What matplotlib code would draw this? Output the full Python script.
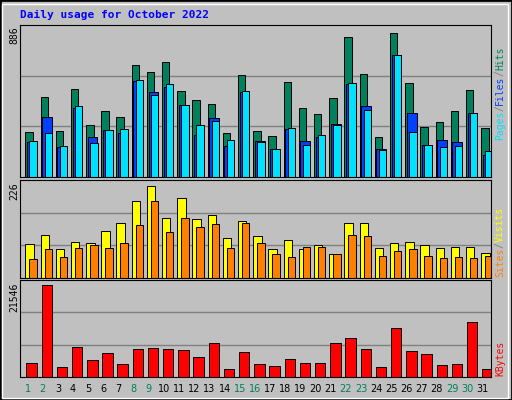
import matplotlib.pyplot as plt
import numpy as np
from matplotlib.patches import Rectangle

days = list(range(1, 32))
weekend = [1, 2, 8, 9, 15, 16, 22, 23, 29, 30]

# values (zoomed pixel tops, converted to counts)
hits_px = [331, 226, 328, 202, 310, 268, 286, 127, 148, 118, 208, 235, 247, 334, 157, 328,
           343, 178, 259, 277, 229, 40, 154, 349, 28, 181, 316, 301, 268, 205, 319]
files_px = [364, 286, 379, 259, 349, 325, 334, 175, 211, 193, 250, 340, 289, 376, 210, 361,
            385, 322, 361, 349, 307, 184, 253, 385, 97, 274, 373, 358, 364, 274, 403]
pages_px = [361, 334, 376, 253, 367, 325, 322, 172, 220, 184, 250, 310, 298, 358, 208, 364,
            385, 319, 373, 340, 310, 181, 265, 388, 97, 331, 373, 379, 376, 274, 391]
visits_px = [202, 175, 217, 196, 199, 163, 139, 73, 28, 124, 64, 127, 115, 184, 133, 178,
             217, 190, 217, 205, 232, 139, 139, 214, 199, 196, 205, 214, 211, 211, 229]
sites_px = [247, 217, 241, 214, 205, 214, 199, 145, 73, 166, 124, 151, 142, 214, 139, 199,
            232, 241, 211, 211, 232, 175, 178, 238, 223, 217, 238, 244, 241, 244, 238]
kb_px = [559, 328, 571, 511, 550, 529, 562, 517, 514, 517, 520, 541, 499, 577, 526, 562,
         568, 547, 559, 559, 499, 487, 517, 571, 457, 523, 532, 565, 562, 439, 577]

hits = [(470 - y) * 886 / 456 for y in hits_px]
files = [(470 - y) * 886 / 456 for y in files_px]
pages = [(470 - y) * 886 / 456 for y in pages_px]
visits = [(305 - y) * 226 / 285 for y in visits_px]
sites = [(305 - y) * 226 / 285 for y in sites_px]
kbytes = [(602 - y) * 21546 / 281 for y in kb_px]

BG = '#C0C0C0'
W, H = 512, 400
fig = plt.figure(figsize=(5.12, 4.0), dpi=100, facecolor=BG)
fig.patches.append(Rectangle((0, 0), 1, 1, transform=fig.transFigure, fill=False,
                             edgecolor='black', lw=2))
fig.patches.append(Rectangle((2 / W, 2 / H), 1 - 6 / W, 1 - 6 / H, transform=fig.transFigure,
                             fill=False, edgecolor='white', lw=1))

mono = 'DejaVu Sans Mono'
fig.text(20 / W, 1 - 15 / H, 'Daily usage for October 2022', color='#0000FF',
         family=mono, fontweight='bold', fontsize=8, va='center')


def make_ax(top, bottom, ymax):
    ax = fig.add_axes([20 / W, 1 - bottom / H, 471 / W, (bottom - top) / H], facecolor=BG)
    ax.set_xlim(0.5, 31.5)
    ax.set_ylim(0, ymax)
    ax.set_xticks([])
    ax.set_yticks([])
    for y in (ymax / 3, ymax * 2 / 3):
        ax.axhline(y, color='#808080', lw=1, zorder=0)
    for s in ax.spines.values():
        s.set_color('black')
    return ax


def side_label(top_px, pieces):
    # pieces listed from bottom to top, drawn rotated
    x = 500 / W
    cw = 5.84
    y = top_px
    for txt, col in pieces:
        fig.text(x, 1 - y / H, txt, color=col, family=mono, fontsize=7, rotation=90,
                 ha='center', va='bottom')
        y -= cw * len(txt)


step = 15.16
d = np.array(days)
ax1 = make_ax(25, 177, 886 / 0.98)
ax1.bar(d - 0.5 + 9 / step, hits, width=7.4 / step, color='#00805C', edgecolor='black', lw=0.7)
ax1.bar(d - 0.5 + 11.8 / step, files, width=9.7 / step, color='#0040FF', edgecolor='black', lw=0.7)
ax1.bar(d - 0.5 + 13 / step, pages, width=7.4 / step, color='#00E0FF', edgecolor='black', lw=0.7)
fig.text(14 / W, 1 - 26 / H, '886', rotation=90, family=mono, fontsize=7, ha='center', va='top')
side_label(140, [('Pages', '#00E0FF'), ('/', '#808080'), ('Files', '#0040FF'),
                 ('/', '#808080'), ('Hits', '#00805C')])

ax2 = make_ax(180, 278, 226 / 0.97)
ax2.bar(d - 0.5 + 9.5 / step, visits, width=8.4 / step, color='#FFFF00', edgecolor='black', lw=0.7)
ax2.bar(d - 0.5 + 13 / step, sites, width=7.4 / step, color='#FF8000', edgecolor='black', lw=0.7)
fig.text(14 / W, 1 - 182 / H, '226', rotation=90, family=mono, fontsize=7, ha='center', va='top')
side_label(277, [('Sites', '#FF8000'), ('/', '#808080'), ('Visits', '#FFFF00')])

ax3 = make_ax(280, 377, 21546 / 0.97)
ax3.bar(d - 0.5 + 11.5 / step, kbytes, width=10.4 / step, color='#FF0000', edgecolor='black', lw=0.7)
fig.text(14 / W, 1 - 283 / H, '21546', rotation=90, family=mono, fontsize=7, ha='center', va='top')
side_label(376, [('KBytes', '#FF0000')])

for day in days:
    xf = (20 + (day - 0.5) * step) / W
    fig.text(xf, 1 - 389 / H, str(day), ha='center', va='center', fontsize=7,
             color='#00805C' if day in weekend else 'black')

fig.savefig('out.png', dpi=100, facecolor=BG)
